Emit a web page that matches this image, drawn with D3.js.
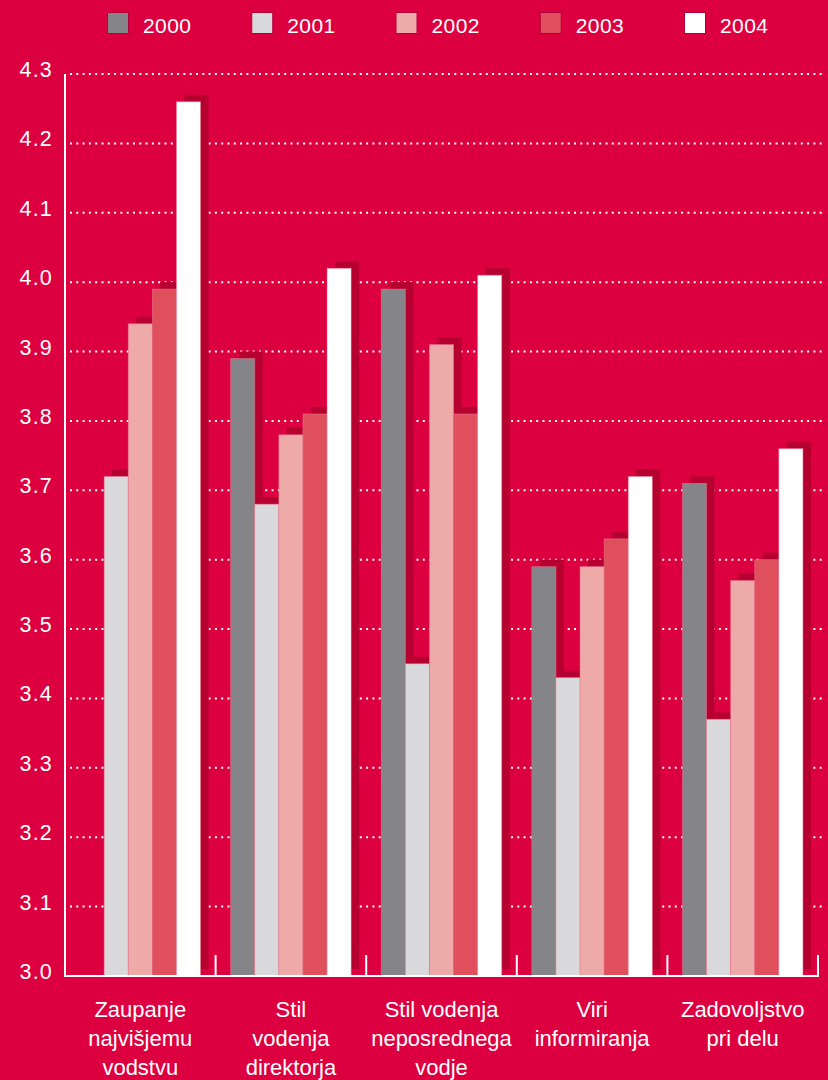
<!DOCTYPE html>
<html>
<head>
<meta charset="utf-8">
<script src="https://cdn.jsdelivr.net/npm/d3@7"></script>
<style>
  html, body { margin: 0; padding: 0; background: #dc0040; }
  svg { display: block; }
  text { font-family: "Liberation Sans", Arial, sans-serif; fill: #fff; }
</style>
</head>
<body>
<svg width="828" height="1080"></svg>
<script>
// data
var categories = [
  ["Zaupanje", "najvišjemu", "vodstvu"],
  ["Stil", "vodenja", "direktorja"],
  ["Stil vodenja", "neposrednega", "vodje"],
  ["Viri", "informiranja"],
  ["Zadovoljstvo", "pri delu"]
];
var years = ["2000", "2001", "2002", "2003", "2004"];
var v2000 = [null, 3.89, 3.99, 3.59, 3.71];
var v2001 = [3.72, 3.68, 3.45, 3.43, 3.37];
var v2002 = [3.94, 3.78, 3.91, 3.59, 3.57];
var v2003 = [3.99, 3.81, 3.81, 3.63, 3.60];
var v2004 = [4.26, 4.02, 4.01, 3.72, 3.76];
var yTicks = [3.0, 3.1, 3.2, 3.3, 3.4, 3.5, 3.6, 3.7, 3.8, 3.9, 4.0, 4.1, 4.2, 4.3];
var colors = ["#858488", "#d9d9db", "#eeaaa8", "#e0505c", "#ffffff"];

var series = [v2000, v2001, v2002, v2003, v2004];
var shadowColor = "#b6002f";

var svg = d3.select("svg");

var catIds = categories.map(function(d, i) { return i; });

var x = d3.scaleBand()
  .domain(catIds)
  .range([65, 818])
  .paddingInner(0.2)
  .paddingOuter(0.1);

var xYear = d3.scaleBand()
  .domain(years)
  .range([0, x.bandwidth()]);

var y = d3.scaleLinear()
  .domain([3.0, 4.3])
  .range([976, 74]);

var color = d3.scaleOrdinal().domain(years).range(colors);

// flat list of bars
var bars = [];
catIds.forEach(function(c) {
  years.forEach(function(yr, j) {
    var v = series[j][c];
    if (v != null) bars.push({ cat: c, year: yr, value: v });
  });
});

// legend
var legend = svg.append("g").attr("class", "legend");
var items = legend.selectAll("g")
  .data(years)
  .enter()
  .append("g")
  .attr("transform", function(d, i) { return "translate(" + (107 + i * 144.25) + ",12)"; });

items.append("rect")
  .attr("x", 0.5)
  .attr("y", 0.5)
  .attr("width", 21)
  .attr("height", 21)
  .style("fill", function(d) { return color(d); })
  .style("stroke", "#b4003a")
  .style("stroke-width", 1);

items.append("text")
  .attr("x", 36)
  .attr("y", 20.5)
  .style("font-size", "21px")
  .style("letter-spacing", "0.4px")
  .text(function(d) { return d; });

// gridlines (dotted)
svg.append("g")
  .selectAll("line")
  .data(yTicks.slice(1))
  .enter()
  .append("line")
  .attr("x1", 70)
  .attr("x2", 822)
  .attr("y1", function(d) { return y(d); })
  .attr("y2", function(d) { return y(d); })
  .style("stroke", "#fff")
  .style("stroke-width", 2)
  .style("stroke-dasharray", "2 4.3");

// y tick labels
svg.append("g")
  .selectAll("text")
  .data(yTicks)
  .enter()
  .append("text")
  .attr("x", 53)
  .attr("y", function(d) { return y(d) + 3; })
  .style("font-size", "21.5px")
  .style("letter-spacing", "1.2px")
  .style("text-anchor", "end")
  .text(function(d) { return d3.format(".1f")(d); });

// bar shadows
svg.append("g")
  .selectAll("rect")
  .data(bars)
  .enter()
  .append("rect")
  .attr("x", function(d) { return x(d.cat) + xYear(d.year) + 8; })
  .attr("y", function(d) { return y(d.value) - 7; })
  .attr("width", xYear.bandwidth())
  .attr("height", function(d) { return y(3.0) - y(d.value); })
  .style("fill", shadowColor);

// bars
svg.append("g")
  .selectAll("rect")
  .data(bars)
  .enter()
  .append("rect")
  .attr("x", function(d) { return x(d.cat) + xYear(d.year); })
  .attr("y", function(d) { return y(d.value); })
  .attr("width", xYear.bandwidth())
  .attr("height", function(d) { return y(3.0) - y(d.value); })
  .style("fill", function(d) { return color(d.year); })
  .style("stroke", "#e87a92")
  .style("stroke-width", 0.8)
  .style("stroke-opacity", 0.6);

// axes
var axis = svg.append("g").style("stroke", "#fff").style("stroke-width", 2);

axis.append("line")
  .attr("x1", 65).attr("x2", 65)
  .attr("y1", y(4.3)).attr("y2", y(3.0) + 1);

axis.append("line")
  .attr("x1", 64).attr("x2", 819)
  .attr("y1", y(3.0)).attr("y2", y(3.0));

var step = x.step();
axis.selectAll("line.tick")
  .data(catIds)
  .enter()
  .append("line")
  .attr("class", "tick")
  .attr("x1", function(d) { return x(d) + x.bandwidth() + step * x.paddingInner() / 2; })
  .attr("x2", function(d) { return x(d) + x.bandwidth() + step * x.paddingInner() / 2; })
  .attr("y1", y(3.0) - 21)
  .attr("y2", y(3.0));

// category labels
var labels = svg.append("g")
  .selectAll("text")
  .data(categories)
  .enter()
  .append("text")
  .attr("transform", function(d, i) { return "translate(" + (x(i) + x.bandwidth() / 2) + ",1017)"; })
  .style("font-size", "22px")
  .style("text-anchor", "middle");

labels.selectAll("tspan")
  .data(function(d) { return d; })
  .enter()
  .append("tspan")
  .attr("x", 0)
  .attr("y", function(d, i) { return i * 29; })
  .text(function(d) { return d; });
</script>
</body>
</html>
